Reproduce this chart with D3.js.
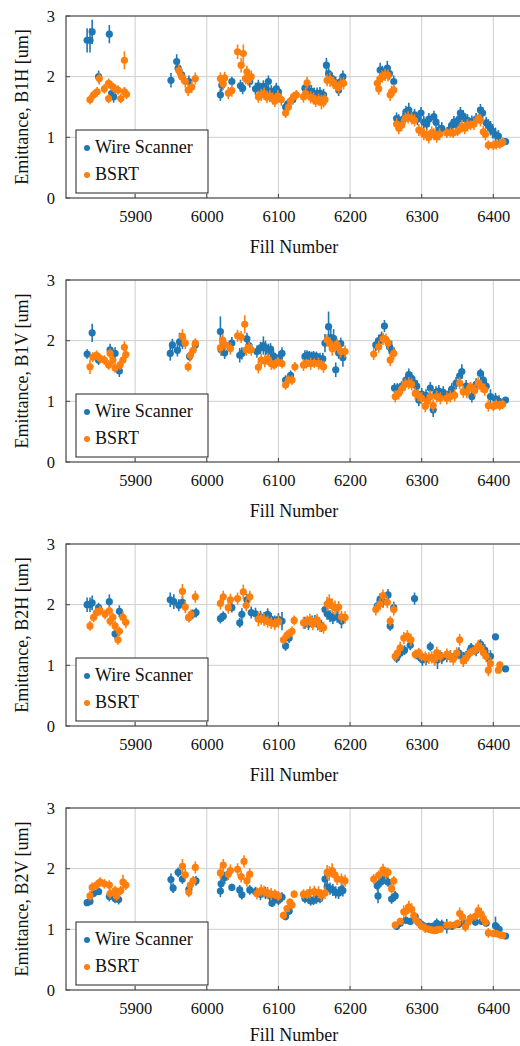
<!DOCTYPE html>
<html>
<head>
<meta charset="utf-8">
<script src="https://cdn.jsdelivr.net/npm/d3@7"></script>
<style>
  body { margin: 0; background: #fff; }
  svg text { font-family: "Liberation Serif", "Times New Roman", serif; }
</style>
</head>
<body>
<div id="chart"></div>
<script>
const fillTicks = [5900, 6000, 6100, 6200, 6300, 6400];
const emitTicks = [0, 1, 2, 3];
const panelNames = ["B1H", "B1V", "B2H", "B2V"];
const seriesNames = ["Wire Scanner", "BSRT"];
const seriesColors = ["#1f77b4", "#ff7f0e"];

// each point: [fill number, emittance (um), error]
const b1hWire = [
  [5833,2.60,0.2],[5837,2.60,0.2],[5840,2.74,0.2],[5864,2.70,0.15],[5849,2.00,0.1],[5867,1.72,0.1],[5870,1.67,0.1],
  [5950,1.94,0.12],[5958,2.25,0.12],[5960,2.14,0.12],[5965,2.03,0.1],[5975,1.92,0.1],
  [6019,1.70,0.1],[6021,1.86,0.1],[6035,1.92,0.08],[6047,1.85,0.1],[6050,1.81,0.1],[6060,1.92,0.1],
  [6068,1.80,0.1],[6072,1.85,0.1],[6075,1.78,0.1],[6079,1.84,0.1],[6083,1.80,0.1],[6086,1.92,0.1],[6090,1.76,0.1],[6093,1.72,0.1],[6097,1.80,0.1],
  [6100,1.75,0.1],[6110,1.50,0.08],[6113,1.55,0.08],[6120,1.62,0.08],
  [6137,1.81,0.1],[6140,1.85,0.1],[6142,1.74,0.1],[6146,1.76,0.1],[6150,1.72,0.1],[6154,1.72,0.1],[6158,1.73,0.1],[6163,1.70,0.1],[6167,2.19,0.12],
  [6170,2.05,0.12],[6175,1.97,0.1],[6180,1.90,0.1],[6184,1.78,0.1],[6187,1.92,0.1],[6190,2.00,0.1],
  [6242,2.11,0.12],[6245,2.08,0.1],[6247,2.05,0.1],[6252,2.14,0.12],[6255,2.05,0.1],[6261,1.92,0.1],[6265,1.31,0.1],[6268,1.28,0.1],[6274,1.30,0.1],
  [6278,1.42,0.1],[6282,1.45,0.12],[6285,1.35,0.1],[6290,1.37,0.1],[6294,1.30,0.1],[6299,1.40,0.1],[6303,1.25,0.1],[6307,1.22,0.1],[6310,1.30,0.1],
  [6317,1.34,0.1],[6320,1.25,0.1],[6324,1.12,0.1],[6328,1.15,0.1],[6338,1.12,0.1],[6342,1.20,0.1],[6345,1.25,0.1],[6348,1.22,0.1],[6352,1.30,0.1],
  [6354,1.40,0.1],[6358,1.35,0.1],[6364,1.28,0.1],[6370,1.26,0.1],[6376,1.30,0.1],[6382,1.45,0.1],[6385,1.40,0.1],[6390,1.24,0.1],[6393,1.20,0.1],
  [6396,1.15,0.12],[6399,1.10,0.12],[6403,1.04,0.12],[6407,1.02,0.1],[6417,0.93,0.05]
];
const b1hBsrt = [
  [5837,1.62,0.08],[5842,1.70,0.08],[5847,1.75,0.08],[5850,1.97,0.1],[5857,1.80,0.08],[5863,1.89,0.08],[5863,1.64,0.08],[5867,1.85,0.08],
  [5872,1.80,0.08],[5876,1.78,0.08],[5880,1.64,0.08],[5885,1.75,0.08],[5885,2.27,0.15],[5888,1.71,0.08],
  [5961,2.10,0.1],[5965,2.00,0.1],[5970,1.92,0.1],[5974,1.78,0.1],[5979,1.83,0.1],[5984,1.97,0.1],
  [6019,1.97,0.1],[6023,1.88,0.1],[6025,1.98,0.1],[6030,1.73,0.1],[6035,1.77,0.1],[6043,2.41,0.12],[6048,2.19,0.12],[6051,2.38,0.15],
  [6054,1.97,0.1],[6056,2.08,0.1],[6058,1.95,0.1],[6062,2.00,0.1],[6072,1.67,0.1],
  [6076,1.70,0.1],[6080,1.72,0.1],[6084,1.66,0.1],[6088,1.68,0.1],[6092,1.64,0.1],[6095,1.60,0.1],[6099,1.68,0.1],[6104,1.62,0.1],
  [6110,1.40,0.08],[6114,1.50,0.08],[6117,1.60,0.08],[6121,1.67,0.08],[6125,1.70,0.08],
  [6135,1.67,0.1],[6138,1.72,0.1],[6140,1.90,0.1],[6145,1.66,0.1],[6149,1.64,0.1],[6152,1.60,0.1],[6156,1.62,0.1],[6160,1.58,0.12],[6163,1.59,0.1],
  [6165,1.62,0.1],[6168,1.94,0.1],[6172,1.95,0.12],[6177,1.90,0.1],[6180,1.85,0.1],[6184,1.82,0.1],[6187,1.88,0.1],[6191,1.89,0.1],
  [6238,1.89,0.1],[6240,1.80,0.1],[6242,1.97,0.1],[6245,2.00,0.1],[6249,2.03,0.1],[6253,2.02,0.1],[6256,1.70,0.1],[6258,1.75,0.1],[6261,1.78,0.1],
  [6265,1.22,0.1],[6268,1.15,0.1],[6272,1.20,0.1],[6277,1.31,0.1],[6281,1.33,0.1],[6286,1.31,0.1],[6290,1.28,0.1],
  [6296,1.12,0.1],[6300,1.10,0.1],[6303,1.05,0.1],[6307,1.04,0.1],[6310,1.00,0.1],[6314,1.08,0.1],[6317,1.05,0.1],[6321,1.01,0.1],[6325,1.05,0.1],
  [6335,1.07,0.08],[6340,1.08,0.08],[6344,1.07,0.08],[6350,1.10,0.08],[6356,1.18,0.1],[6360,1.15,0.1],[6364,1.20,0.1],[6368,1.20,0.08],[6373,1.22,0.1],
  [6379,1.31,0.08],[6382,1.28,0.1],[6386,1.09,0.1],[6389,1.05,0.1],[6393,0.87,0.08],[6400,0.87,0.08],[6404,0.88,0.08],[6409,0.89,0.08],[6413,0.92,0.08]
];
const b1vWire = [
  [5833,1.78,0.08],[5840,2.13,0.15],[5849,1.68,0.08],[5865,1.85,0.1],[5872,1.79,0.1],[5878,1.50,0.1],
  [5949,1.79,0.12],[5952,1.93,0.1],[5959,1.84,0.1],[5962,1.98,0.15],[5966,1.96,0.1],[5976,1.74,0.08],[5984,1.93,0.08],
  [6019,2.15,0.25],[6020,1.85,0.1],[6025,1.80,0.1],[6035,1.96,0.1],[6046,1.76,0.12],[6049,1.79,0.1],[6056,2.03,0.1],[6059,1.92,0.1],
  [6070,1.82,0.1],[6075,1.88,0.1],[6079,1.92,0.15],[6082,1.88,0.12],[6086,1.83,0.12],[6089,1.86,0.1],[6093,1.75,0.1],[6096,1.68,0.1],
  [6101,1.72,0.1],[6105,1.79,0.1],[6110,1.35,0.08],[6117,1.43,0.08],
  [6137,1.74,0.1],[6140,1.76,0.08],[6143,1.75,0.08],[6146,1.74,0.08],[6149,1.75,0.08],[6153,1.74,0.08],[6158,1.70,0.1],[6162,1.70,0.1],
  [6165,1.96,0.15],[6170,2.23,0.25],[6173,2.05,0.15],[6177,2.04,0.15],[6180,1.52,0.12],[6184,1.80,0.1],[6187,1.95,0.1],[6190,1.72,0.15],
  [6236,1.93,0.1],[6240,2.00,0.1],[6244,2.05,0.1],[6248,2.24,0.1],[6255,1.90,0.12],[6258,1.85,0.15],[6262,1.22,0.08],[6266,1.22,0.08],[6272,1.25,0.08],
  [6278,1.35,0.1],[6282,1.44,0.1],[6286,1.38,0.1],[6290,1.30,0.1],[6293,1.25,0.1],[6296,1.02,0.1],[6300,1.12,0.1],[6306,1.10,0.1],
  [6312,1.22,0.1],[6316,0.86,0.12],[6320,1.15,0.1],[6324,1.17,0.1],[6330,1.15,0.1],[6338,1.12,0.1],
  [6342,1.20,0.1],[6348,1.30,0.1],[6353,1.42,0.1],[6356,1.49,0.12],[6362,1.25,0.1],[6370,1.08,0.1],[6376,1.28,0.1],[6382,1.46,0.08],[6386,1.35,0.1],
  [6390,1.25,0.1],[6396,1.08,0.12],[6403,1.04,0.1],[6408,1.00,0.1],[6417,1.02,0.05]
];
const b1vBsrt = [
  [5837,1.57,0.12],[5841,1.73,0.08],[5846,1.76,0.08],[5851,1.71,0.08],[5857,1.68,0.08],[5863,1.60,0.08],[5865,1.79,0.08],[5869,1.68,0.08],
  [5872,1.55,0.08],[5879,1.60,0.08],[5883,1.68,0.08],[5885,1.89,0.1],[5887,1.77,0.08],
  [5966,2.07,0.12],[5970,1.96,0.1],[5974,1.57,0.08],[5977,1.76,0.1],[5981,1.84,0.1],[5984,1.96,0.08],
  [6019,1.88,0.1],[6022,2.01,0.1],[6026,1.93,0.1],[6033,1.87,0.1],[6043,2.08,0.1],[6048,2.06,0.1],[6053,2.27,0.15],[6055,1.85,0.1],[6059,1.88,0.1],[6062,1.85,0.1],[6072,1.56,0.1],
  [6076,1.68,0.1],[6081,1.66,0.1],[6085,1.70,0.1],[6090,1.62,0.1],[6094,1.60,0.08],[6099,1.65,0.08],[6105,1.62,0.08],
  [6110,1.27,0.08],[6114,1.35,0.08],[6119,1.35,0.08],[6123,1.57,0.08],
  [6135,1.60,0.1],[6139,1.62,0.08],[6145,1.62,0.1],[6150,1.63,0.08],[6156,1.62,0.1],[6160,1.60,0.08],[6163,1.57,0.1],[6168,2.01,0.1],[6172,1.95,0.1],
  [6175,1.87,0.12],[6179,1.90,0.1],[6182,1.93,0.1],[6187,1.82,0.1],[6193,1.82,0.1],
  [6233,1.78,0.1],[6240,1.90,0.1],[6246,2.03,0.1],[6250,2.02,0.1],[6253,1.96,0.1],[6256,1.68,0.1],[6261,1.79,0.1],[6263,1.08,0.1],[6268,1.13,0.1],[6273,1.22,0.1],
  [6277,1.28,0.1],[6282,1.30,0.1],[6286,1.28,0.1],[6291,1.13,0.1],[6295,1.10,0.1],[6300,1.05,0.1],[6305,0.92,0.1],[6308,1.00,0.1],[6312,1.08,0.1],
  [6316,0.93,0.1],[6321,1.08,0.1],[6326,1.05,0.1],[6335,1.05,0.1],[6340,1.08,0.1],[6346,1.10,0.1],
  [6353,1.30,0.1],[6358,1.16,0.1],[6363,1.15,0.1],[6368,1.24,0.08],[6374,1.18,0.1],[6379,1.30,0.1],[6383,1.25,0.1],[6388,1.19,0.1],[6393,0.93,0.1],
  [6400,0.92,0.08],[6404,0.95,0.08],[6409,0.93,0.08],[6413,0.95,0.08]
];
const b2hWire = [
  [5833,2.00,0.12],[5837,2.00,0.12],[5840,2.03,0.12],[5849,1.95,0.08],[5864,2.05,0.12],[5872,1.52,0.08],[5878,1.89,0.1],
  [5949,2.08,0.12],[5954,2.05,0.12],[5961,1.99,0.1],[5966,2.04,0.1],[5975,1.79,0.08],[5980,1.84,0.08],[5985,1.87,0.08],
  [6019,1.77,0.08],[6023,1.81,0.08],[6035,1.95,0.08],[6046,1.70,0.08],[6049,1.84,0.1],[6056,2.08,0.1],[6062,1.87,0.1],
  [6068,1.85,0.1],[6075,1.80,0.1],[6080,1.78,0.1],[6085,1.84,0.1],[6090,1.76,0.1],[6095,1.72,0.1],[6100,1.76,0.1],[6105,1.73,0.15],
  [6110,1.32,0.08],[6115,1.45,0.08],
  [6137,1.70,0.1],[6142,1.68,0.1],[6147,1.72,0.1],[6151,1.73,0.1],[6155,1.68,0.1],[6160,1.65,0.1],[6165,1.92,0.1],[6168,1.85,0.1],
  [6172,1.81,0.1],[6176,1.78,0.1],[6182,1.80,0.1],[6188,1.73,0.12],
  [6238,1.98,0.1],[6242,2.09,0.1],[6246,2.05,0.1],[6253,2.16,0.1],[6256,1.65,0.08],[6261,1.95,0.1],[6265,1.12,0.08],[6270,1.20,0.08],[6276,1.25,0.08],
  [6284,1.33,0.08],[6290,2.10,0.1],[6296,1.15,0.08],
  [6301,1.09,0.1],[6306,1.10,0.1],[6312,1.31,0.08],[6318,1.10,0.1],[6322,1.09,0.15],[6328,1.12,0.1],[6335,1.15,0.1],[6340,1.15,0.1],[6346,1.15,0.1],
  [6352,1.20,0.1],[6358,1.12,0.1],[6364,1.18,0.1],[6369,1.29,0.08],[6376,1.25,0.1],[6382,1.35,0.08],[6388,1.25,0.1],[6392,1.15,0.1],
  [6396,1.15,0.1],[6403,1.47,0.05],[6417,0.94,0.05]
];
const b2hBsrt = [
  [5837,1.65,0.08],[5842,1.79,0.08],[5846,1.87,0.08],[5851,1.90,0.08],[5858,1.84,0.08],[5864,1.90,0.08],[5865,1.73,0.08],[5869,1.79,0.08],
  [5872,1.65,0.08],[5876,1.42,0.08],[5878,1.56,0.08],[5883,1.79,0.1],[5887,1.71,0.1],
  [5966,2.22,0.12],[5970,1.96,0.1],[5975,1.79,0.08],[5978,1.84,0.08],[5984,2.13,0.1],
  [6019,2.02,0.1],[6023,2.13,0.1],[6030,1.95,0.1],[6033,2.08,0.1],[6043,2.10,0.1],[6051,2.21,0.12],[6055,1.99,0.1],[6060,2.13,0.1],[6072,1.76,0.12],
  [6076,1.77,0.1],[6080,1.75,0.1],[6085,1.72,0.1],[6090,1.70,0.1],[6095,1.68,0.1],[6100,1.72,0.1],
  [6107,1.42,0.08],[6112,1.50,0.08],[6115,1.52,0.08],[6119,1.56,0.08],[6122,1.74,0.08],
  [6135,1.70,0.1],[6140,1.72,0.1],[6144,1.75,0.1],[6148,1.68,0.1],[6154,1.75,0.1],[6158,1.65,0.1],[6163,1.62,0.1],[6168,2.01,0.12],[6171,2.05,0.12],
  [6175,1.98,0.12],[6179,1.95,0.12],[6184,1.96,0.1],[6188,1.80,0.1],[6193,1.79,0.1],
  [6236,1.92,0.1],[6242,2.01,0.1],[6246,2.15,0.1],[6252,2.04,0.1],[6256,1.73,0.08],[6261,1.92,0.1],[6263,1.15,0.08],[6266,1.20,0.08],[6270,1.29,0.1],
  [6275,1.45,0.1],[6280,1.48,0.1],[6285,1.42,0.1],[6291,1.18,0.08],[6296,1.21,0.08],[6300,1.15,0.08],[6305,1.13,0.1],[6310,1.12,0.1],[6314,1.13,0.1],
  [6318,1.10,0.1],[6321,1.21,0.1],[6326,1.15,0.1],
  [6335,1.18,0.1],[6340,1.15,0.1],[6344,1.10,0.1],[6349,1.20,0.1],[6353,1.42,0.1],[6358,1.07,0.1],[6362,1.12,0.1],[6368,1.21,0.08],[6374,1.25,0.08],
  [6379,1.32,0.1],[6383,1.28,0.1],[6386,1.21,0.1],[6390,1.15,0.1],[6393,0.92,0.1],
  [6396,1.03,0.1],[6407,0.92,0.05],[6409,1.01,0.05]
];
const b2vWire = [
  [5833,1.44,0.05],[5837,1.46,0.05],[5842,1.59,0.05],[5849,1.62,0.05],[5864,1.54,0.08],[5872,1.51,0.08],[5877,1.49,0.08],
  [5950,1.82,0.1],[5953,1.68,0.08],[5960,1.94,0.08],[5966,1.83,0.08],[5975,1.66,0.08],[5985,1.80,0.08],
  [6019,1.63,0.1],[6020,1.75,0.08],[6025,1.85,0.1],[6035,1.69,0.06],[6046,1.65,0.08],[6049,1.57,0.08],[6060,1.65,0.08],
  [6068,1.62,0.08],[6075,1.58,0.1],[6082,1.60,0.1],[6088,1.55,0.1],[6091,1.43,0.06],[6095,1.50,0.08],[6100,1.48,0.08],[6105,1.53,0.08],
  [6110,1.21,0.06],[6115,1.30,0.06],
  [6137,1.51,0.08],[6142,1.50,0.08],[6145,1.47,0.08],[6149,1.48,0.08],[6153,1.50,0.08],[6158,1.51,0.08],[6165,1.83,0.1],[6168,1.70,0.1],
  [6172,1.67,0.1],[6176,1.65,0.1],[6180,1.61,0.1],[6184,1.60,0.1],[6188,1.66,0.1],[6190,1.64,0.1],
  [6238,1.72,0.08],[6239,1.55,0.12],[6243,1.78,0.08],[6248,1.83,0.08],[6253,1.78,0.08],[6258,1.50,0.08],[6263,1.55,0.08],[6265,1.05,0.06],
  [6270,1.10,0.06],[6278,1.15,0.06],[6284,1.13,0.06],[6291,1.21,0.06],[6296,1.12,0.06],[6300,1.08,0.06],
  [6305,1.05,0.06],[6310,1.05,0.06],[6315,1.05,0.06],[6321,1.10,0.08],[6328,1.08,0.08],[6335,1.05,0.12],[6342,1.05,0.06],[6351,1.08,0.06],
  [6358,1.10,0.06],[6368,1.18,0.06],[6375,1.12,0.06],[6384,1.13,0.06],[6390,1.10,0.06],[6403,1.06,0.15],[6408,1.00,0.08],[6417,0.89,0.05]
];
const b2vBsrt = [
  [5837,1.55,0.08],[5840,1.69,0.08],[5846,1.73,0.08],[5851,1.78,0.08],[5857,1.75,0.08],[5864,1.73,0.08],[5865,1.59,0.08],[5872,1.64,0.08],
  [5874,1.55,0.08],[5880,1.64,0.08],[5883,1.78,0.12],[5887,1.73,0.08],
  [5966,2.04,0.12],[5970,1.90,0.1],[5975,1.61,0.08],[5977,1.73,0.08],[5981,1.80,0.08],[5984,2.02,0.1],
  [6019,1.93,0.1],[6023,2.06,0.1],[6030,1.91,0.1],[6033,1.97,0.1],[6043,1.99,0.1],[6048,1.87,0.1],[6052,2.12,0.1],[6056,1.80,0.1],[6060,1.91,0.1],[6070,1.59,0.1],
  [6076,1.64,0.1],[6080,1.62,0.1],[6085,1.60,0.1],[6090,1.58,0.1],[6095,1.58,0.08],[6100,1.55,0.08],
  [6107,1.23,0.06],[6112,1.34,0.06],[6116,1.45,0.06],[6119,1.40,0.06],[6122,1.58,0.06],
  [6135,1.58,0.08],[6140,1.58,0.08],[6144,1.61,0.1],[6150,1.62,0.1],[6156,1.61,0.1],[6160,1.56,0.1],[6165,1.60,0.1],[6168,1.94,0.12],[6171,1.92,0.12],
  [6175,1.97,0.12],[6179,1.90,0.1],[6182,1.83,0.1],[6188,1.82,0.1],[6193,1.80,0.1],
  [6233,1.83,0.08],[6240,1.89,0.08],[6246,1.98,0.1],[6250,1.92,0.1],[6253,1.94,0.08],[6258,1.67,0.08],[6261,1.80,0.08],[6263,1.07,0.06],[6270,1.13,0.06],
  [6275,1.29,0.1],[6278,1.30,0.1],[6282,1.37,0.1],[6286,1.33,0.1],[6289,1.23,0.08],[6292,1.15,0.08],[6296,1.10,0.08],[6300,1.05,0.06],[6305,1.02,0.08],
  [6310,1.00,0.06],[6314,0.99,0.06],[6318,0.98,0.06],[6321,0.99,0.06],[6326,1.00,0.06],[6335,1.07,0.06],[6340,1.07,0.06],
  [6346,1.07,0.06],[6350,1.10,0.06],[6353,1.26,0.1],[6357,1.20,0.1],[6361,1.04,0.08],[6365,1.12,0.08],[6368,1.18,0.08],[6375,1.22,0.08],
  [6379,1.31,0.1],[6383,1.25,0.1],[6386,1.18,0.08],[6389,1.12,0.08],[6393,0.94,0.08],[6400,0.93,0.06],[6404,0.93,0.06],[6409,0.91,0.06],[6413,0.90,0.06]
];

const panelData = [
  [b1hWire, b1hBsrt],
  [b1vWire, b1vBsrt],
  [b2hWire, b2hBsrt],
  [b2vWire, b2vBsrt]
];

const W = 520, H = 1046;
const plotLeft = 66, plotRight = 522;
const panelTops = [16, 280, 544, 808];
const panelHeight = 182;
const serif = "'Liberation Serif', 'Times New Roman', serif";

const svg = d3.select("#chart").append("svg")
  .attr("width", W)
  .attr("height", H)
  .style("font-family", serif);

const x = d3.scaleLinear()
  .domain([5803.5, 6440])
  .range([plotLeft, plotRight]);

panelNames.forEach((name, p) => {
  const top = panelTops[p];
  const bottom = top + panelHeight;
  const y = d3.scaleLinear()
    .domain([0, 3])
    .range([bottom, top]);

  const g = svg.append("g");

  // grid
  g.selectAll(".vgrid")
    .data(fillTicks)
    .enter().append("line")
    .attr("x1", d => x(d)).attr("x2", d => x(d))
    .attr("y1", top).attr("y2", bottom)
    .attr("stroke", "#cfcfcf").attr("stroke-width", 1);
  g.selectAll(".hgrid")
    .data(emitTicks.slice(1, -1))
    .enter().append("line")
    .attr("x1", plotLeft).attr("x2", plotRight)
    .attr("y1", d => y(d)).attr("y2", d => y(d))
    .attr("stroke", "#cfcfcf").attr("stroke-width", 1);

  // tick labels
  const xAxis = d3.axisBottom(x).tickValues(fillTicks).tickFormat(d3.format("d")).tickSize(0).tickPadding(12);
  g.append("g")
    .attr("transform", "translate(0," + bottom + ")")
    .call(xAxis)
    .attr("font-family", null)
    .call(a => a.select(".domain").remove())
    .selectAll("text")
    .style("font-family", serif)
    .style("font-size", "16.5px")
    .attr("fill", "#111");

  const yAxis = d3.axisLeft(y).tickValues(emitTicks).tickFormat(d3.format("d")).tickSize(0).tickPadding(11);
  g.append("g")
    .attr("transform", "translate(" + plotLeft + ",0)")
    .call(yAxis)
    .attr("font-family", null)
    .call(a => a.select(".domain").remove())
    .selectAll("text")
    .style("font-family", serif)
    .style("font-size", "16.5px")
    .attr("fill", "#111");

  // data: wire scanner first, then BSRT on top
  panelData[p].forEach((series, s) => {
    const color = seriesColors[s];
    const sg = g.append("g");
    sg.selectAll(".err")
      .data(series)
      .enter().append("line")
      .attr("x1", d => x(d[0])).attr("x2", d => x(d[0]))
      .attr("y1", d => y(d[1] - d[2])).attr("y2", d => y(d[1] + d[2]))
      .attr("stroke", color).attr("stroke-width", 1.6);
    sg.selectAll(".pt")
      .data(series)
      .enter().append("circle")
      .attr("cx", d => x(d[0]))
      .attr("cy", d => y(d[1]))
      .attr("r", 3.6)
      .attr("fill", color);
  });

  // frame with inward ticks
  g.append("rect")
    .attr("x", plotLeft).attr("y", top)
    .attr("width", plotRight - plotLeft).attr("height", panelHeight)
    .attr("fill", "none").attr("stroke", "#444").attr("stroke-width", 1.2);
  g.selectAll(".xt")
    .data(fillTicks)
    .enter().append("line")
    .attr("x1", d => x(d)).attr("x2", d => x(d))
    .attr("y1", bottom).attr("y2", bottom - 4)
    .attr("stroke", "#444");
  g.selectAll(".yt")
    .data(emitTicks)
    .enter().append("line")
    .attr("x1", plotLeft).attr("x2", plotLeft + 4)
    .attr("y1", d => y(d)).attr("y2", d => y(d))
    .attr("stroke", "#444");

  // axis titles
  g.append("text")
    .attr("transform", "translate(28," + (top + panelHeight / 2) + ") rotate(-90)")
    .attr("text-anchor", "middle")
    .style("font-family", serif)
    .style("font-size", "18px")
    .attr("fill", "#111")
    .text("Emittance, " + name + " [um]");
  g.append("text")
    .attr("x", (plotLeft + plotRight) / 2)
    .attr("y", bottom + (p === 3 ? 51 : 55))
    .attr("text-anchor", "middle")
    .style("font-family", serif)
    .style("font-size", "18px")
    .attr("fill", "#111")
    .text("Fill Number");

  // legend
  const lg = g.append("g").attr("transform", "translate(76," + (top + 114) + ")");
  lg.append("rect")
    .attr("width", 132).attr("height", 63)
    .attr("fill", "#fff").attr("stroke", "#222").attr("stroke-width", 1);
  seriesNames.forEach((sn, i) => {
    lg.append("circle")
      .attr("cx", 11).attr("cy", 18 + i * 27)
      .attr("r", 3).attr("fill", seriesColors[i]);
    lg.append("text")
      .attr("x", 19).attr("y", 23 + i * 27)
      .style("font-family", serif)
      .style("font-size", "18px")
      .attr("fill", "#111")
      .text(sn);
  });
});
</script>
</body>
</html>
